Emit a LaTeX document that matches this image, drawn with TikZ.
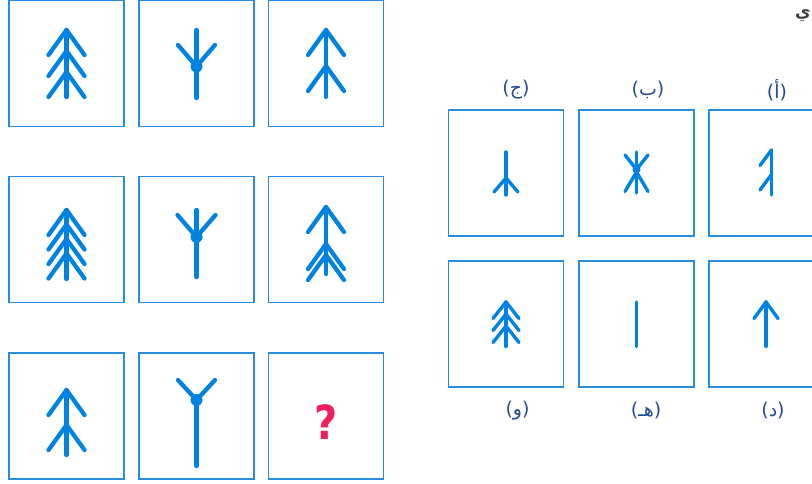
\documentclass[tikz,border=0pt]{standalone}
\usepackage{fontspec}
\setmainfont{DejaVu Sans}
\newfontfamily\arabicfont[Script=Arabic]{DejaVu Sans}
\newfontfamily\qfont{DejaVu Sans}
\TeXXeTstate=1
\definecolor{boxc}{RGB}{40,140,225}
\definecolor{symc}{RGB}{0,130,225}
\definecolor{labc}{RGB}{35,75,150}
\definecolor{qc}{RGB}{240,30,90}
\definecolor{txtc}{RGB}{60,60,60}
\tikzset{
  cell/.style={draw=boxc, line width=1.8pt, minimum width=115pt, minimum height=126pt, inner sep=0pt},
  symbig/.style={draw=symc, line width=4.3pt, line cap=round, line join=round},
  symsmall/.style={draw=symc, line width=3.4pt, line cap=round, line join=round},
  lab/.style={text=labc, font=\fontsize{19}{19}\selectfont, inner sep=0pt}
}
\begin{document}
\begin{tikzpicture}[x=1pt,y=-1pt]
\useasboundingbox (0,0) rectangle (812,484);
% grid cells
\node[cell] (c11) at (66.5,63.5) {};
\node[cell] (c12) at (196.5,63.5) {};
\node[cell] (c13) at (326,63.5) {};
\node[cell] (c21) at (66.5,239.5) {};
\node[cell] (c22) at (196.5,239.5) {};
\node[cell] (c23) at (326,239.5) {};
\node[cell] (c31) at (66.5,416) {};
\node[cell] (c32) at (196.5,416) {};
\node[cell] (c33) at (326,416) {};
% option cells
\node[cell] (oj) at (506,173) {};
\node[cell] (ob) at (636.5,173) {};
\node[cell] (oa) at (766.5,173) {};
\node[cell] (ow) at (506,324) {};
\node[cell] (oh) at (636.5,324) {};
\node[cell] (od) at (766.5,324) {};

% row 1 col 1: three chevrons
\draw[symbig] (66.5,30) -- (66.5,97);
\foreach \a in {30,51,72} \draw[symbig] (48.5,\a+25) -- (66.5,\a) -- (84.5,\a+25);
% row 2 col 1: four chevrons
\draw[symbig] (66.5,210) -- (66.5,279);
\foreach \a in {210,224.5,239,253.5} \draw[symbig] (48.5,\a+25) -- (66.5,\a) -- (84.5,\a+25);
% row 3 col 1: two chevrons
\draw[symbig] (66.5,390) -- (66.5,455);
\foreach \a in {390,425} \draw[symbig] (48.5,\a+25) -- (66.5,\a) -- (84.5,\a+25);

% col 2 Y shapes
\draw[symbig] (196.5,30) -- (196.5,98);
\draw[symbig] (178,45) -- (196.5,66.5) -- (215,45);
\fill[symc] (196.5,66.5) circle (6);
\draw[symbig] (196.5,210) -- (196.5,277);
\draw[symbig] (177.5,215) -- (196.5,237) -- (215.5,215);
\fill[symc] (196.5,237) circle (6);
\draw[symbig] (196.5,400) -- (196.5,466);
\draw[symbig] (178,380) -- (196.5,400) -- (215,380);
\fill[symc] (196.5,400) circle (6);

% col 3
\draw[symbig] (326,30) -- (326,97);
\foreach \a in {30,66} \draw[symbig] (308,\a+25) -- (326,\a) -- (344,\a+25);
\draw[symbig] (326,207) -- (326,274);
\foreach \a in {207,244,255} \draw[symbig] (308,\a+25) -- (326,\a) -- (344,\a+25);

% question mark
\node[text=qc, font=\qfont\bfseries\fontsize{47}{47}\selectfont, xscale=0.85, inner sep=0pt] (q) at (326,422) {?};

% option symbols
% (ج)
\draw[symsmall] (506,152) -- (506,195);
\draw[symsmall] (494,192) -- (506,178) -- (518,192);
% (ب)
\draw[symsmall] (636.5,152) -- (636.5,193);
\draw[symsmall] (625,155) -- (636.5,169.5) -- (648,155);
\draw[symsmall] (625,191.5) -- (636.5,172) -- (648,191.5);
\fill[symc] (636.5,169.5) circle (4);
% (أ)
\draw[symsmall] (771.5,150) -- (771.5,195);
\draw[symsmall] (760,165.5) -- (771.5,150);
\draw[symsmall] (760,190) -- (771.5,174.5);
% (و)
\draw[symsmall] (506,302) -- (506,346.5);
\foreach \a in {302,314,326} \draw[symsmall] (493,\a+16.5) -- (506,\a) -- (519,\a+16.5);
% (هـ)
\draw[symsmall] (636.5,302) -- (636.5,346.5);
% (د)
\draw[symsmall] (766,302) -- (766,346.5);
\draw[symsmall] (754,318.5) -- (766,302) -- (778,318.5);

% labels
\node[lab] (lj) at (516,90) {({\arabicfont\beginR ج\endR})};
\node[lab] (lb) at (648,90) {({\arabicfont\beginR ب\endR})};
\node[lab] (la) at (777,90) {({\arabicfont\beginR أ\endR})};
\node[lab] (lw) at (517.5,411) {({\arabicfont\beginR و\endR})};
\node[lab] (lh) at (646,411) {({\arabicfont\beginR هـ\endR})};
\node[lab] (ld) at (773,411) {({\arabicfont\beginR د\endR})};

% heading text (last letter, at the right edge)
\node[anchor=east, text=txtc, font=\arabicfont\bfseries\fontsize{17}{17}\selectfont, inner sep=0pt] (hd) at (811,16) {\beginR ي\endR};
\end{tikzpicture}
\end{document}
